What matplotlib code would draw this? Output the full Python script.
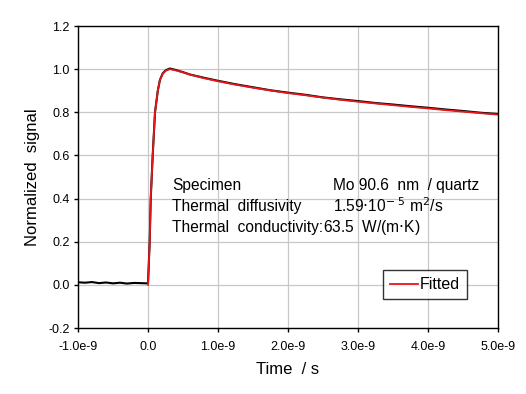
import numpy as np
import matplotlib
matplotlib.use("Agg")
import matplotlib.pyplot as plt
from matplotlib.ticker import FuncFormatter

plt.rcParams['font.family'] = ['Liberation Sans', 'DejaVu Sans']

meas_t = [-1.0, -0.9, -0.8, -0.7, -0.6, -0.5, -0.4, -0.3, -0.2, -0.1, -0.02, 0.0,
          0.024, 0.039, 0.067, 0.1, 0.14, 0.17, 0.21, 0.25, 0.31, 0.4, 0.5, 0.6, 0.8, 1.0,
          1.25, 1.5, 1.75, 2.0, 2.25, 2.5, 2.75, 3.0, 3.25, 3.5, 3.75, 4.0,
          4.25, 4.5, 4.75, 5.0]
meas_v = [0.012, 0.010, 0.013, 0.008, 0.011, 0.007, 0.010, 0.006, 0.009, 0.008, 0.007, 0.008,
          0.2, 0.4, 0.6, 0.8, 0.9, 0.95, 0.98, 0.994, 1.003, 0.996, 0.986, 0.975, 0.96, 0.946,
          0.93, 0.916, 0.902, 0.891, 0.881, 0.869, 0.860, 0.852, 0.843, 0.836, 0.828, 0.821,
          0.813, 0.806, 0.798, 0.792]

# Fitted curve
fit_t = [0.0, 0.024, 0.039, 0.067, 0.1, 0.14, 0.17, 0.21, 0.25, 0.31, 0.4, 0.5, 0.6, 0.8, 1.0,
         1.25, 1.5, 1.75, 2.0, 2.25, 2.5, 2.75, 3.0, 3.25, 3.5, 3.75, 4.0,
         4.25, 4.5, 4.75, 5.0]
fit_v = [0.0, 0.2, 0.4, 0.6, 0.8, 0.9, 0.95, 0.978, 0.992, 1.0, 0.994, 0.985, 0.975, 0.958, 0.944,
         0.928, 0.914, 0.901, 0.889, 0.879, 0.868, 0.858, 0.849, 0.841, 0.833, 0.825, 0.818,
         0.81, 0.803, 0.796, 0.789]

x_ticks = [-1.0, 0.0, 1.0, 2.0, 3.0, 4.0, 5.0]
y_ticks = [-0.2, 0.0, 0.2, 0.4, 0.6, 0.8, 1.0, 1.2]

info_labels = ["Specimen", "Thermal  diffusivity", "Thermal  conductivity:"]
info_values = ["Mo 90.6  nm  / quartz", r"1.59$\cdot$10$^{-\ 5}$ m$^2$/s",
               r"63.5  W/(m$\cdot$K)"]
info_value_x = [0.607, 0.607, 0.583]


def tick_fmt(v, pos):
    if abs(v) < 1e-12:
        return "0.0"
    return "%.1fe-9" % v


fig = plt.figure(figsize=(5.26, 3.94), dpi=100)
ax = fig.add_axes([0.1483, 0.1675, 0.7985, 0.7665])

ax.plot(np.array(meas_t), meas_v, color='black', lw=1.5)
ax.plot(np.array(fit_t), fit_v, color='#e8161b', lw=1.3, label='Fitted')

ax.set_xlim(-1.0, 5.0)
ax.set_ylim(-0.2, 1.2)
ax.set_xticks(x_ticks)
ax.set_yticks(y_ticks)
ax.xaxis.set_major_formatter(FuncFormatter(tick_fmt))
ax.yaxis.set_major_formatter(FuncFormatter(lambda v, p: "%.1f" % v))
ax.grid(True, color='#c8c8c8', lw=0.9)
ax.set_axisbelow(True)
ax.tick_params(direction='out', length=3, width=1, labelsize=9)
ax.tick_params(axis='x', pad=6)
ax.tick_params(axis='y', pad=3)
for s in ax.spines.values():
    s.set_linewidth(1.0)

ax.set_xlabel("Time  / s", fontsize=12, labelpad=7)
ax.set_ylabel("Normalized  signal", fontsize=12, labelpad=6)

for i, lab in enumerate(info_labels):
    yy = 0.473 - i * 0.0695
    ax.text(0.224, yy, lab, transform=ax.transAxes, fontsize=11.2, va='center')
    ax.text(info_value_x[i], yy, info_values[i], transform=ax.transAxes,
            fontsize=11.2, va='center')

leg = ax.legend(loc='lower right', bbox_to_anchor=(0.927, 0.095), fontsize=11.5,
                frameon=True, fancybox=False, edgecolor='black', handlelength=1.8,
                handletextpad=0.1, borderpad=0.45, borderaxespad=0)
leg.get_frame().set_linewidth(1.0)

fig.savefig("out.png", dpi=100)
